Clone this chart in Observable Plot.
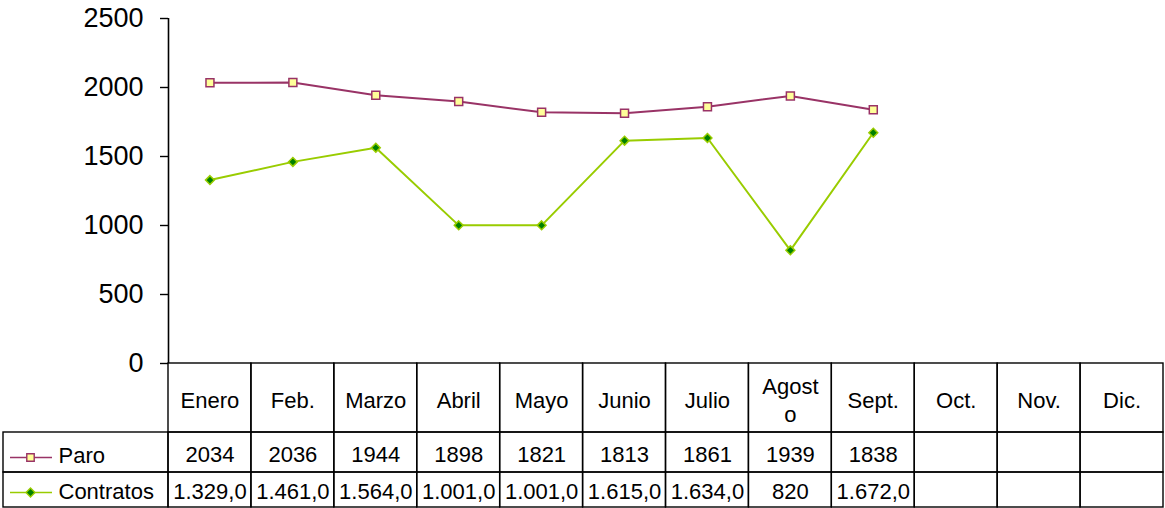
<!DOCTYPE html>
<html>
<head>
<meta charset="utf-8">
<script src="https://cdn.jsdelivr.net/npm/d3@7"></script>
<script src="https://cdn.jsdelivr.net/npm/@observablehq/plot@0.6"></script>
<style>
  html, body { margin: 0; padding: 0; background: #fff; }
  #chart svg { overflow: visible; display: block; }
</style>
</head>
<body>
<div id="chart"></div>
<script>
// ---- data ----
const months = ["Enero","Feb.","Marzo","Abril","Mayo","Junio","Julio","Agosto","Sept.","Oct.","Nov.","Dic."];
const monthLabels = ["Enero","Feb.","Marzo","Abril","Mayo","Junio","Julio","Agost\no","Sept.","Oct.","Nov.","Dic."];
const paro = [2034, 2036, 1944, 1898, 1821, 1813, 1861, 1939, 1838];
const contratos = [1329, 1461, 1564, 1001, 1001, 1615, 1634, 820, 1672];
const paroLabels = ["2034","2036","1944","1898","1821","1813","1861","1939","1838"];
const contratosLabels = ["1.329,0","1.461,0","1.564,0","1.001,0","1.001,0","1.615,0","1.634,0","820","1.672,0"];
const yTicks = [0, 500, 1000, 1500, 2000, 2500];
const seriesNames = ["Paro", "Contratos"];

// ---- layout ----
const W = 1165, H = 508, ML = 168, MR = 2, MT = 18, MB = 145;
const yMax = 2500;
const bottom = H - MB;                       // pixel of y = 0
const unit = yMax / (bottom - MT);           // data units per pixel
const py = px => (bottom - px) * unit;       // pixel row -> y value
const bw = (W - ML - MR) / months.length;
const font = "'Liberation Sans', Arial, Helvetica, sans-serif";

const rows = paro.map((v, i) => ({
  month: months[i], paro: v, contratos: contratos[i],
  paroLabel: paroLabels[i], contratosLabel: contratosLabels[i]
}));

const paroColor = "#993366", paroFill = "#FFFF99";
const contColor = "#99CC00", contFill = "#008000";

// table row boundaries (pixels)
const rHead = [bottom, 432], rParo = [432, 472], rCont = [472, 507];

const cellStyle = {fill: "none", stroke: "#000", strokeWidth: 1.4};
const legendCell = (r) => Plot.barY([0], {
  y1: py(r[0]), y2: py(r[1]), insetLeft: -(ML - 3), insetRight: W - ML - MR, ...cellStyle
});

const chart = Plot.plot({
  width: W, height: H,
  marginLeft: ML, marginRight: MR, marginTop: MT, marginBottom: MB,
  style: {fontFamily: font, background: "#fff", color: "#000"},
  x: {type: "band", domain: months, paddingInner: 0, paddingOuter: 0, round: false, axis: null},
  y: {domain: [0, yMax], axis: null},
  marks: [
    // y axis
    Plot.axisY({ticks: yTicks, tickFormat: d3.format("d"), tickSize: 8, tickPadding: 17,
                fontSize: 27, stroke: "#000", strokeWidth: 1.4, fill: "#000"}),
    Plot.ruleX([months[0]], {x: d => d, y1: 0, y2: yMax, dx: -bw / 2, stroke: "#000", strokeWidth: 1.6}),

    // data table cells
    Plot.barY(months, {x: d => d, y1: py(rHead[0]), y2: py(rHead[1]), ...cellStyle}),
    Plot.barY(months, {x: d => d, y1: py(rParo[0]), y2: py(rParo[1]), ...cellStyle}),
    Plot.barY(months, {x: d => d, y1: py(rCont[0]), y2: py(rCont[1]), ...cellStyle}),
    legendCell(rParo),
    legendCell(rCont),

    // table text
    Plot.text(months, {x: d => d, y: py(399), text: (d, i) => monthLabels[i],
                       fontSize: 22, lineHeight: 1.27, fill: "#000"}),
    Plot.text(rows, {x: "month", y: py(454), text: "paroLabel", fontSize: 22, fill: "#000"}),
    Plot.text(rows, {x: "month", y: py(491), text: "contratosLabel", fontSize: 22, fill: "#000"}),

    // legend keys
    Plot.ruleY([py(457)], {insetLeft: -(ML - 10), insetRight: W - MR - 52, stroke: paroColor, strokeWidth: 1.6}),
    Plot.dot([py(457)], {y: d => d, frameAnchor: "left", dx: 30 - ML, symbol: "square", r: 4.2,
                         fill: paroFill, stroke: paroColor, strokeWidth: 1.4}),
    Plot.text([seriesNames[0]], {y: () => py(455), frameAnchor: "left", dx: 58 - ML, textAnchor: "start",
                                 text: d => d, fontSize: 22, fill: "#000"}),
    Plot.ruleY([py(492)], {insetLeft: -(ML - 10), insetRight: W - MR - 52, stroke: contColor, strokeWidth: 1.6}),
    Plot.dot([py(492)], {y: d => d, frameAnchor: "left", dx: 30 - ML, symbol: "diamond2", r: 4,
                         fill: contFill, stroke: contColor, strokeWidth: 1.4}),
    Plot.text([seriesNames[1]], {y: () => py(491), frameAnchor: "left", dx: 58 - ML, textAnchor: "start",
                                 text: d => d, fontSize: 22, fill: "#000"}),

    // series
    Plot.line(rows, {x: "month", y: "paro", stroke: paroColor, strokeWidth: 2}),
    Plot.line(rows, {x: "month", y: "contratos", stroke: contColor, strokeWidth: 2}),
    Plot.dot(rows, {x: "month", y: "paro", symbol: "square", r: 4.5,
                    fill: paroFill, stroke: paroColor, strokeWidth: 1.5}),
    Plot.dot(rows, {x: "month", y: "contratos", symbol: "diamond2", r: 4,
                    fill: contFill, stroke: contColor, strokeWidth: 1.5})
  ]
});
document.getElementById("chart").appendChild(chart);
</script>
</body>
</html>
